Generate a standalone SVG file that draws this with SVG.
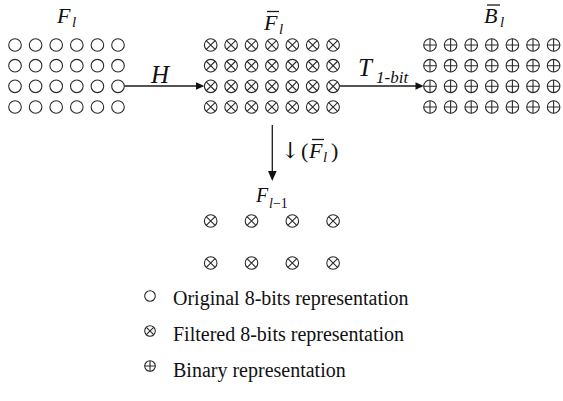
<svg xmlns="http://www.w3.org/2000/svg" xmlns:xlink="http://www.w3.org/1999/xlink" width="563" height="401" viewBox="0 0 563 401">
<style>
.sym{fill:none;stroke:#2a2a2a;stroke-width:1.1}
.ln{stroke:#1a1a1a;stroke-width:1.3;fill:none}
.ah{fill:#111}
.m{font-family:"Liberation Serif","Times New Roman",serif;font-style:italic;fill:#111}
.r{font-family:"Liberation Serif","Times New Roman",serif;fill:#111}
.lg{font-family:"Liberation Serif","Times New Roman",serif;font-size:20px;fill:#111}
</style>
<defs>
<g id="o" class="sym"><circle r="6.3"/></g>
<g id="x" class="sym"><circle r="6.3"/><path d="M-4.45,-4.45L4.45,4.45M-4.45,4.45L4.45,-4.45"/></g>
<g id="p" class="sym"><circle r="6.3"/><path d="M-6.3,0H6.3M0,-6.3V6.3"/></g>
<g id="xs" class="sym"><circle r="5.3"/><path d="M-3.7,-3.7L3.7,3.7M-3.7,3.7L3.7,-3.7"/></g>
<g id="ps" class="sym"><circle r="5.3"/><path d="M-5.3,0H5.3M0,-5.3V5.3"/></g>
<g id="os" class="sym"><circle r="5.3"/></g>
</defs>

<g id="connectors">
<path class="ln" d="M124.5,86H197"/><path class="ah" d="M204.4,86L196,82.2V89.8Z"/>
<path class="ln" d="M339.5,86H416"/><path class="ah" d="M423.7,86L415.5,82.2V89.8Z"/>
<path class="ln" d="M272.3,125V172"/><path class="ah" d="M272.3,181L268,171H276.6Z"/>
<text class="m" x="151" y="83" font-size="25">H</text>
<text class="m" x="358" y="76" font-size="25">T</text>
<text class="m" x="376" y="83" font-size="17">1-bit</text>
<text x="281" y="158" font-size="22" font-family="DejaVu Serif, serif" fill="#111">↓</text>
<text class="r" x="301" y="158" font-size="22">(</text>
<text class="m" x="309" y="158" font-size="22">F</text>
<path class="ln" d="M312,139.5H324" stroke-width="1"/>
<text class="m" x="323" y="162" font-size="15">l</text>
<text class="r" x="331" y="158" font-size="22">)</text>
</g>

<g id="node-Fl">
<text class="m" x="57" y="23" font-size="22">F</text>
<text class="m" x="72" y="27" font-size="15">l</text>
<g>
<use href="#o" x="15" y="45"/><use href="#o" x="35.6" y="45"/><use href="#o" x="56.2" y="45"/><use href="#o" x="76.8" y="45"/><use href="#o" x="97.4" y="45"/><use href="#o" x="118" y="45"/>
<use href="#o" x="15" y="65.7"/><use href="#o" x="35.6" y="65.7"/><use href="#o" x="56.2" y="65.7"/><use href="#o" x="76.8" y="65.7"/><use href="#o" x="97.4" y="65.7"/><use href="#o" x="118" y="65.7"/>
<use href="#o" x="15" y="86.3"/><use href="#o" x="35.6" y="86.3"/><use href="#o" x="56.2" y="86.3"/><use href="#o" x="76.8" y="86.3"/><use href="#o" x="97.4" y="86.3"/><use href="#o" x="118" y="86.3"/>
<use href="#o" x="15" y="107"/><use href="#o" x="35.6" y="107"/><use href="#o" x="56.2" y="107"/><use href="#o" x="76.8" y="107"/><use href="#o" x="97.4" y="107"/><use href="#o" x="118" y="107"/>
</g>
</g>

<g id="node-Fbar">
<text class="m" x="264" y="30" font-size="22">F</text>
<path class="ln" d="M267,11.5H279" stroke-width="1"/>
<text class="m" x="279" y="34" font-size="15">l</text>
<g>
<use href="#x" x="210.7" y="45"/><use href="#x" x="231.1" y="45"/><use href="#x" x="251.5" y="45"/><use href="#x" x="271.9" y="45"/><use href="#x" x="292.3" y="45"/><use href="#x" x="312.7" y="45"/><use href="#x" x="333.1" y="45"/>
<use href="#x" x="210.7" y="65.7"/><use href="#x" x="231.1" y="65.7"/><use href="#x" x="251.5" y="65.7"/><use href="#x" x="271.9" y="65.7"/><use href="#x" x="292.3" y="65.7"/><use href="#x" x="312.7" y="65.7"/><use href="#x" x="333.1" y="65.7"/>
<use href="#x" x="210.7" y="86.3"/><use href="#x" x="231.1" y="86.3"/><use href="#x" x="251.5" y="86.3"/><use href="#x" x="271.9" y="86.3"/><use href="#x" x="292.3" y="86.3"/><use href="#x" x="312.7" y="86.3"/><use href="#x" x="333.1" y="86.3"/>
<use href="#x" x="210.7" y="107"/><use href="#x" x="231.1" y="107"/><use href="#x" x="251.5" y="107"/><use href="#x" x="271.9" y="107"/><use href="#x" x="292.3" y="107"/><use href="#x" x="312.7" y="107"/><use href="#x" x="333.1" y="107"/>
</g>
</g>

<g id="node-Bbar">
<text class="m" x="484" y="23" font-size="22">B</text>
<path class="ln" d="M487,5H500" stroke-width="1"/>
<text class="m" x="500" y="27" font-size="15">l</text>
<g>
<use href="#p" x="430" y="45"/><use href="#p" x="450.6" y="45"/><use href="#p" x="471.2" y="45"/><use href="#p" x="491.8" y="45"/><use href="#p" x="512.4" y="45"/><use href="#p" x="533" y="45"/><use href="#p" x="553.6" y="45"/>
<use href="#p" x="430" y="65.7"/><use href="#p" x="450.6" y="65.7"/><use href="#p" x="471.2" y="65.7"/><use href="#p" x="491.8" y="65.7"/><use href="#p" x="512.4" y="65.7"/><use href="#p" x="533" y="65.7"/><use href="#p" x="553.6" y="65.7"/>
<use href="#p" x="430" y="86.3"/><use href="#p" x="450.6" y="86.3"/><use href="#p" x="471.2" y="86.3"/><use href="#p" x="491.8" y="86.3"/><use href="#p" x="512.4" y="86.3"/><use href="#p" x="533" y="86.3"/><use href="#p" x="553.6" y="86.3"/>
<use href="#p" x="430" y="107"/><use href="#p" x="450.6" y="107"/><use href="#p" x="471.2" y="107"/><use href="#p" x="491.8" y="107"/><use href="#p" x="512.4" y="107"/><use href="#p" x="533" y="107"/><use href="#p" x="553.6" y="107"/>
</g>
</g>

<g id="node-Flm1">
<text class="m" x="256" y="202" font-size="20">F</text>
<text x="269" y="208" font-size="14"><tspan class="m">l</tspan><tspan class="r">−1</tspan></text>
<g>
<use href="#x" x="210.7" y="221"/><use href="#x" x="251.5" y="221"/><use href="#x" x="292.3" y="221"/><use href="#x" x="333.1" y="221"/>
<use href="#x" x="210.7" y="263"/><use href="#x" x="251.5" y="263"/><use href="#x" x="292.3" y="263"/><use href="#x" x="333.1" y="263"/>
</g>
</g>

<g id="legend">
<use href="#os" x="150" y="296"/>
<text class="lg" x="173" y="305">Original 8-bits representation</text>
<use href="#xs" x="150" y="331"/>
<text class="lg" x="173" y="341">Filtered 8-bits representation</text>
<use href="#ps" x="150" y="366"/>
<text class="lg" x="173" y="377">Binary representation</text>
</g>
</svg>
